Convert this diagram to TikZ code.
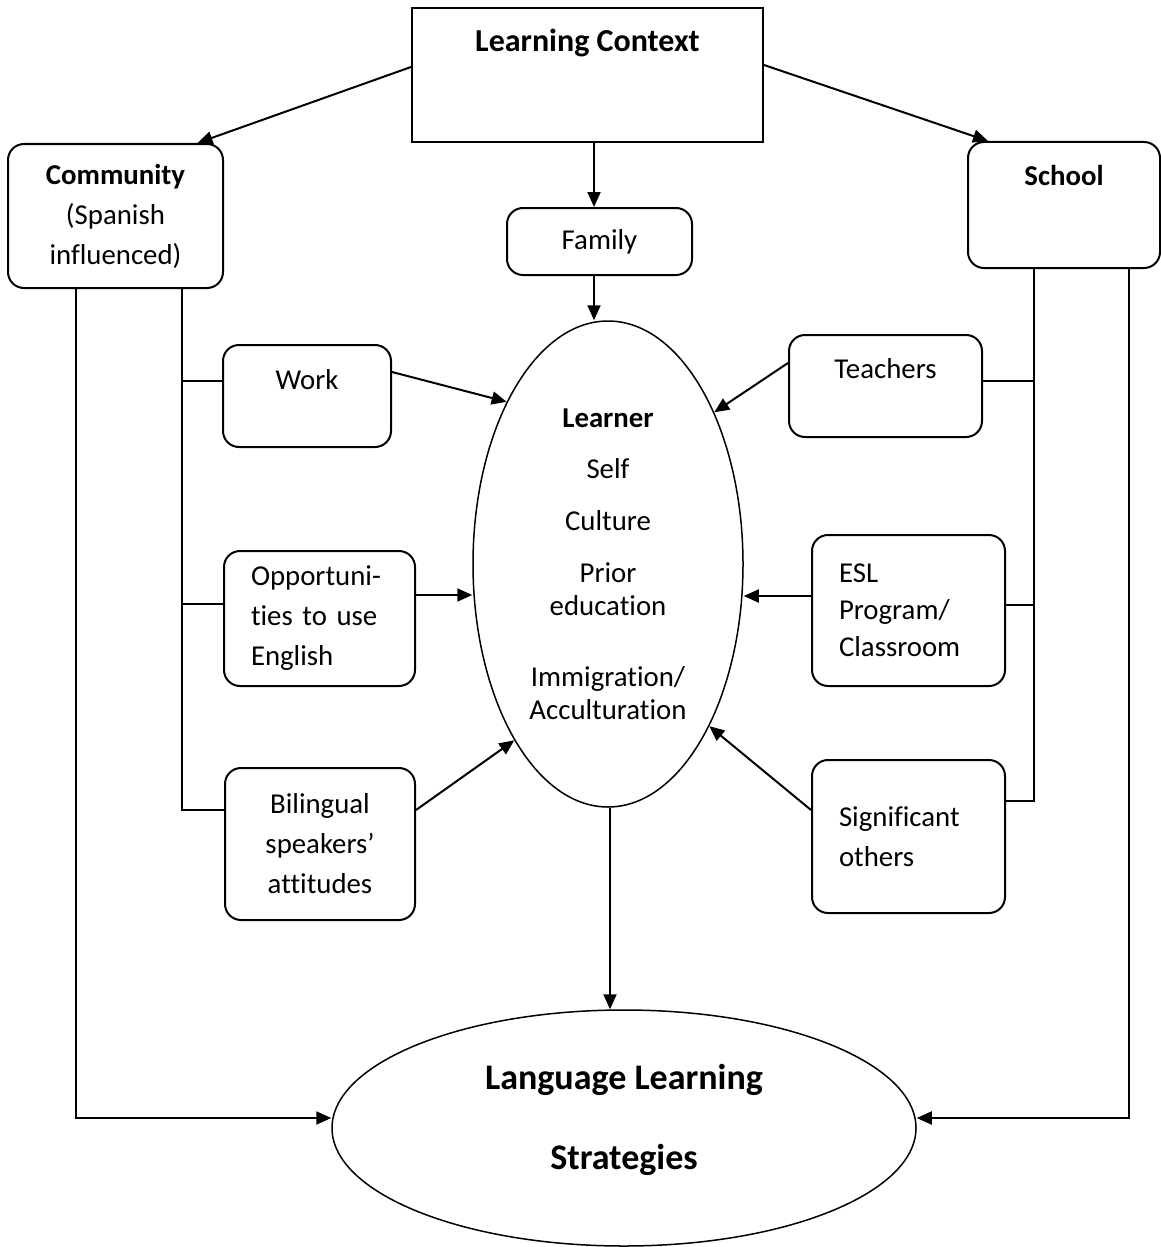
\documentclass[tikz,border=0pt]{standalone}
\usepackage{fontspec}
\setmainfont{Carlito}[Ligatures={TeX,NoCommon}]
\usetikzlibrary{shapes.geometric,arrows.meta,positioning,calc}

\begin{document}
\begin{tikzpicture}[x=0.5pt, y=-0.5pt,
  every node/.style={font=\fontsize{14.4}{20}\selectfont, align=center, inner sep=0pt},
  sqbox/.style={draw, line width=1pt},
  rbox/.style={draw, line width=1pt, rounded corners=8pt},
  oval/.style={draw, ellipse, line width=0.75pt},
  arr/.style={line width=1pt, -{Triangle[length=7.5pt,width=6.5pt]}},
  tick/.style={line width=0.75pt}]
  \useasboundingbox (0,0) rectangle (1161,1247);
  % Context at the top
  \node[sqbox, minimum width=175.5pt, minimum height=67pt, text depth=35pt,
        font=\fontsize{16}{20}\selectfont\bfseries] (lc) at (587.5,75) {Learning Context};
  \node[rbox, minimum width=107.5pt, minimum height=72pt] (comm) at (115.5,216)
        {\textbf{Community}\\(Spanish\\influenced)};
  \node[rbox, minimum width=96pt, minimum height=63pt, text depth=30pt] (school) at (1064,205) {\textbf{School}};
  \node[rbox, minimum width=92.5pt, minimum height=33.5pt] (fam) at (599.5,241.5) {Family};
  % Community side
  \node[rbox, minimum width=84pt, minimum height=51pt, text depth=16.5pt] (work) at (307,396) {Work};
  \node[rbox, minimum width=95.5pt, minimum height=67.5pt, text width=68.5pt, align=left] (opp) at (319.5,618.5)
        {Opportuni-\\ties to use\\English};
  \node[rbox, minimum width=95pt, minimum height=76pt] (bil) at (320,844) {Bilingual\\speakers’\\attitudes};
  % School side
  \node[rbox, minimum width=96.5pt, minimum height=51pt, text depth=17.5pt] (teach) at (885.5,386) {Teachers};
  \node[rbox, minimum width=96.5pt, minimum height=75.5pt, text width=69.5pt, align=left,
        font=\fontsize{14.4}{18.5}\selectfont] (esl) at (908.5,610.5) {ESL\\Program/\\Classroom};
  \node[rbox, minimum width=96.5pt, minimum height=76.5pt, text width=69.5pt, align=left, text depth=20pt]
        (sig) at (908.5,836.5) {Significant\\others};
  % Learner
  \node[oval, minimum width=135pt, minimum height=243pt, font=\fontsize{14.4}{16.5}\selectfont] (learner) at (608,564)
        {\textbf{Learner}\\[9pt]Self\\[9.5pt]Culture\\[9.5pt]Prior\\education\\[19pt]Immigration/\\Acculturation};
  % Strategies
  \node[oval, minimum width=292pt, minimum height=118pt, text depth=11pt,
        font=\fontsize{18}{40}\selectfont\bfseries] (lls) at (624,1128) {Language Learning\\Strategies};

  % arrows from the context
  \draw[arr] ([yshift=4pt]lc.west) -- ([xshift=41pt]comm.north);
  \draw[arr] ([yshift=5pt]lc.east) -- ([xshift=-38pt]school.north);
  \draw[arr] ([xshift=-2.75pt]fam.north |- lc.south) -- ([xshift=-2.75pt]fam.north);
  \draw[arr] ([xshift=-2.75pt]fam.south) -- ([xshift=-2.75pt]fam.south |- learner.north);
  % into the learner
  \draw[arr] ([yshift=12pt]work.east) -- (learner.122);
  \draw[arr] ([yshift=11.75pt]opp.east) -- ([yshift=11.75pt]opp.east -| learner.west);
  \draw[arr] ([yshift=17pt]bil.east) -- (learner.242);
  \draw[arr] ([yshift=11.5pt]teach.west) -- (learner.55);
  \draw[arr] ([yshift=7.25pt]esl.west) -- ([yshift=7.25pt]esl.west -| learner.east);
  \draw[arr] ([yshift=13.25pt]sig.west) -- (learner.302);
  \draw[arr] ([xshift=1pt]learner.south) -- ([xshift=1pt]learner.south |- lls.north);
  % community lines
  \draw[tick] ([xshift=33.25pt]comm.south) |- ([yshift=17pt]bil.west);
  \draw[tick] ([yshift=7.5pt]work.west) -- ++(-20.5pt,0);
  \draw[tick] ([yshift=7.25pt]opp.west) -- ++(-21pt,0);
  \draw[arr] ([xshift=-19.75pt]comm.south) |- ([yshift=5pt]lls.west);
  % school lines
  \draw[tick] ([xshift=-15pt]school.south) |- ([yshift=17.75pt]sig.east);
  \draw[tick] ([yshift=2.5pt]teach.east) -- ++(26pt,0);
  \draw[tick] ([yshift=2.75pt]esl.east) -- ++(14.5pt,0);
  \draw[arr] ([xshift=32.5pt]school.south) |- ([yshift=5pt]lls.east);
\end{tikzpicture}
\end{document}
